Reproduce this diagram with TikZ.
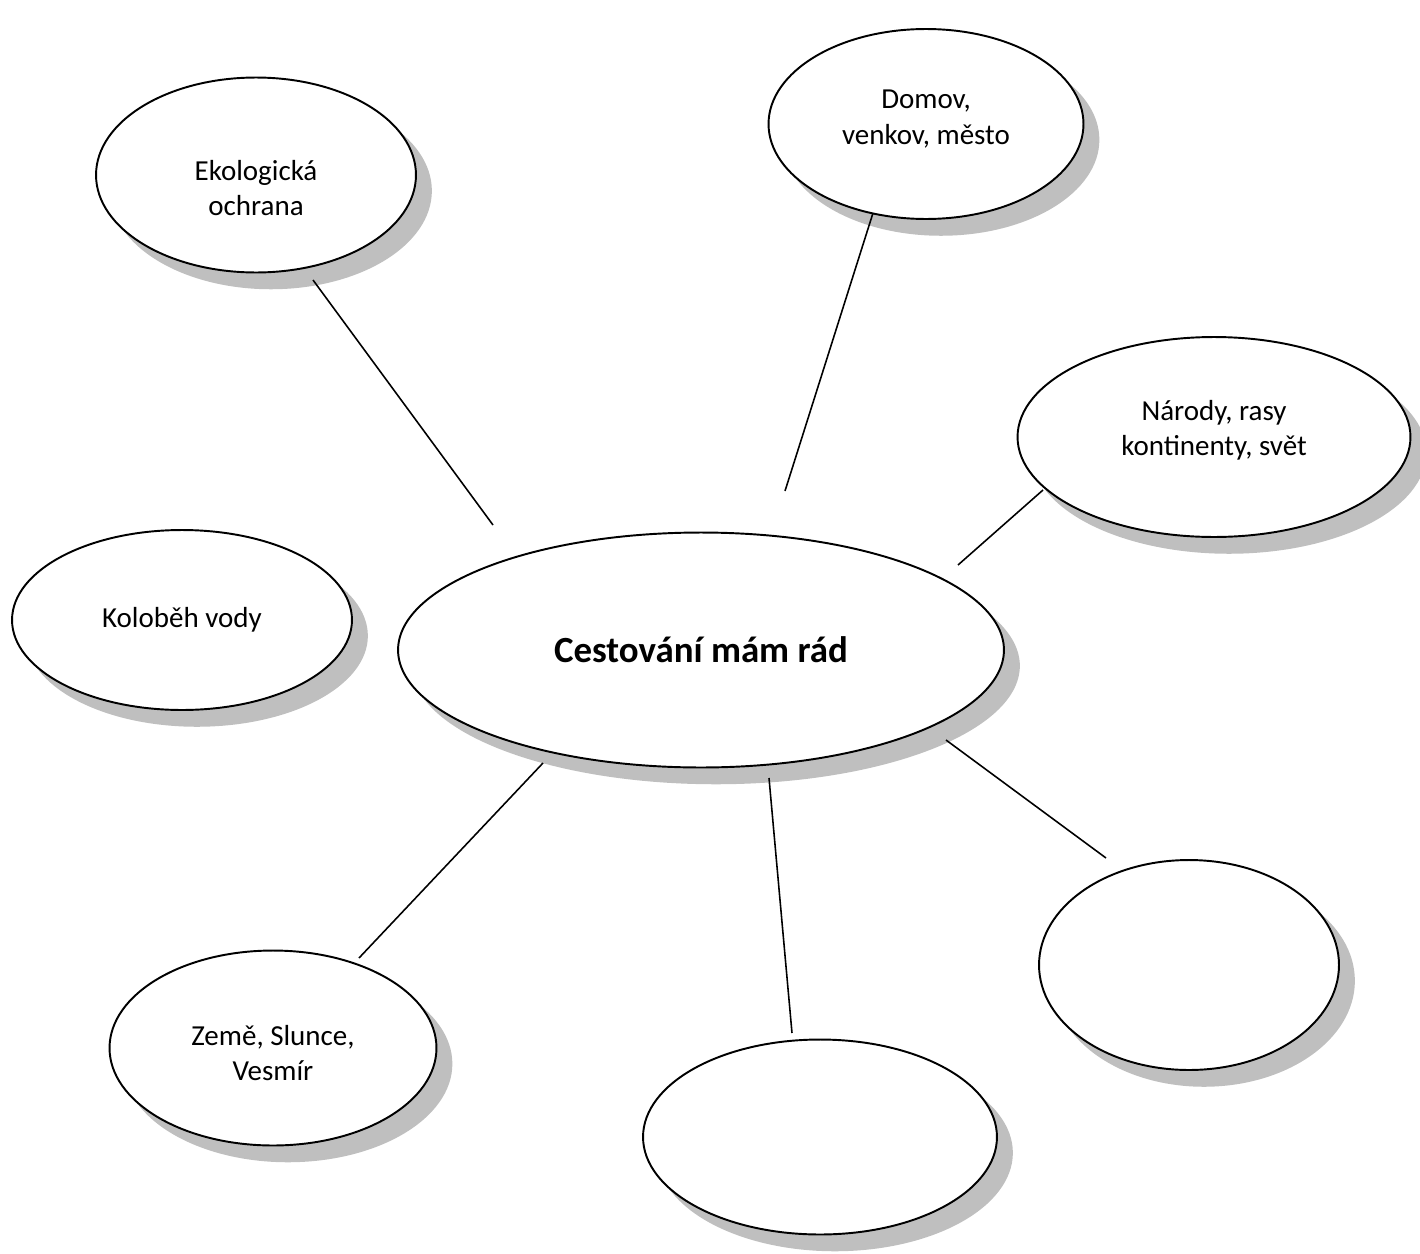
\documentclass[tikz,border=0pt]{standalone}
\usepackage{fontspec}
\setmainfont{Carlito}
\usetikzlibrary{shapes.geometric,calc,backgrounds}

\tikzset{
	main/.style = {draw, ellipse, fill=white, line width=1.1pt, inner sep=0pt},
	txt/.style = {align=center, font=\fontsize{16.5}{20}\selectfont},
	link/.style = {draw, line width=0.9pt}
}

\begin{document}
\begin{tikzpicture}[x=0.02cm, y=-0.02cm]
		\useasboundingbox (0,0) rectangle (1420,1254);
		\node[main, minimum width=12.12cm, minimum height=4.7cm, font=\bfseries\fontsize{21}{25}\selectfont] (0) at (701,650) {Cestování mám rád};
		\node[main, minimum width=6.4cm, minimum height=3.9cm,
			label={[txt, yshift=-0.26cm]center:{Ekologická\\ochrana}}] (1) at (256,175) {};
		\node[main, minimum width=6.3cm, minimum height=3.8cm,
			label={[txt, yshift=0.1cm]center:{Domov,\\venkov, město}}] (2) at (926,124) {};
		\node[main, minimum width=7.86cm, minimum height=4cm,
			label={[txt, yshift=0.14cm]center:{Národy, rasy\\kontinenty, svět}}] (3) at (1214,437) {};
		\node[main, minimum width=6.8cm, minimum height=3.6cm, label={[txt]center:Koloběh vody}] (4) at (182,620) {};
		\node[main, minimum width=6cm, minimum height=4.2cm] (5) at (1189,965) {};
		\node[main, minimum width=6.54cm, minimum height=3.9cm,
			label={[txt, yshift=-0.1cm]center:{Země, Slunce,\\Vesmír}}] (6) at (273,1048) {};
		\node[main, minimum width=7.08cm, minimum height=3.9cm] (7) at (820,1137) {};
		% grey shadows behind the ellipses
		\begin{scope}[on background layer]
			\foreach \k in {0,...,7}
				\fill[black!25] let \p1=(\k.east), \p2=(\k.north), \p3=(\k.center) in
					(\x3+8.5pt,\y3-9pt) ellipse ({\x1-\x3} and {\y2-\y3});
		\end{scope}
		\coordinate (1a) at (313,280);  \coordinate (1b) at (493,525);
		\coordinate (2a) at (873,213);  \coordinate (2b) at (785,491);
		\coordinate (3a) at (1043,490); \coordinate (3b) at (958,565);
		\coordinate (6a) at (359,958);  \coordinate (6b) at (543,763);
		\coordinate (7a) at (792,1033); \coordinate (7b) at (769,778);
		\coordinate (5a) at (1106,858); \coordinate (5b) at (946,740);
		\draw[link] (1a) -- (1b);
		\draw[link] (2a) -- (2b);
		\draw[link] (3a) -- (3b);
		\draw[link] (6a) -- (6b);
		\draw[link] (7a) -- (7b);
		\draw[link] (5a) -- (5b);
\end{tikzpicture}
\end{document}
